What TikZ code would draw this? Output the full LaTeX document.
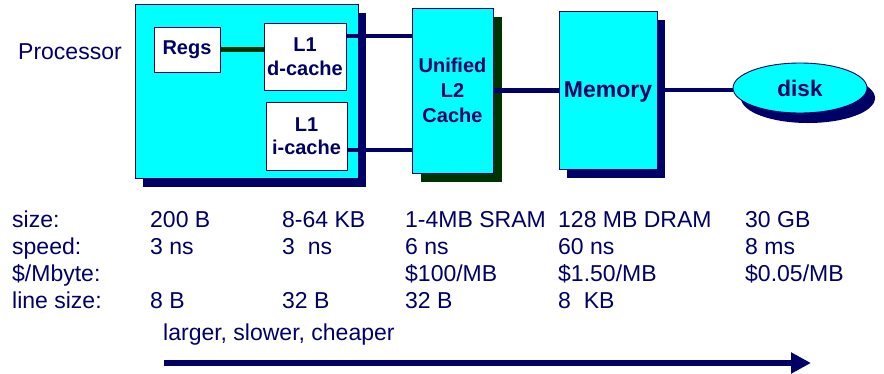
\documentclass[tikz,border=0pt]{standalone}
\usepackage{fontspec}
\setmainfont{Liberation Sans}
\usetikzlibrary{shapes.geometric,shadows,arrows.meta}
\definecolor{navy}{RGB}{0,0,102}
\definecolor{cyanfill}{RGB}{0,255,255}
\definecolor{dkgreen}{RGB}{0,51,0}
\tikzset{
  box/.style={draw=navy, line width=0.9pt, fill=cyanfill, inner sep=0pt, text=navy, font=\bfseries\fontsize{20}{25}\selectfont, align=center},
  wbox/.style={draw=navy, line width=0.9pt, fill=white, inner sep=0pt, text=navy, font=\bfseries\fontsize{20}{23.5}\selectfont, align=center},
  navyshadow/.style={drop shadow={shadow xshift=8pt, shadow yshift=-9pt, fill=navy, opacity=1}},
  greenshadow/.style={drop shadow={shadow xshift=9pt, shadow yshift=-9pt, fill=dkgreen, opacity=1}},
  bus/.style={draw=navy, line width=4.5pt},
  gbus/.style={draw=dkgreen, line width=4.5pt},
  tab/.style={anchor=base west, inner sep=0pt, text=navy, font=\fontsize{23}{27}\selectfont},
}
\begin{document}
\begin{tikzpicture}[x=1pt,y=-1pt]
\useasboundingbox (0,0) rectangle (884,373);
% Processor
\node[box, navyshadow, minimum width=223pt, minimum height=174pt] (proc) at (246.5,91) {};
\node[tab] (proclbl) at (18,59) {Processor};
\node[wbox, minimum width=66pt, minimum height=45pt] (regs) at (187,49.5) {Regs};
\node[wbox, minimum width=82pt, minimum height=67pt] (dcache) at (305,56.5) {L1\\d-cache};
\node[wbox, minimum width=81pt, minimum height=68pt] (icache) at (306.5,136) {L1\\i-cache};
% L2
\node[box, greenshadow, minimum width=81pt, minimum height=165pt] (l2) at (452.5,90.5) {Unified\\L2\\Cache};
% Memory
\node[box, navyshadow, minimum width=98pt, minimum height=158pt, text depth=0pt, font=\bfseries\fontsize{23}{27}\selectfont] (mem) at (608,90) {Memory};
% Disk
\node[box, ellipse, drop shadow={shadow xshift=8pt, shadow yshift=-10pt, fill=navy, opacity=1}, minimum width=134pt, minimum height=50pt, font=\bfseries\fontsize{22.5}{27}\selectfont] (disk) at (800,88) {disk};
% connectors
\draw[gbus] (regs.east) -- (regs.east -| dcache.west);
\draw[bus] ([yshift=20.5pt]dcache.east) -- ([yshift=20.5pt]dcache.east -| l2.west);
\draw[bus] ([yshift=-14pt]icache.east) -- ([yshift=-14pt]icache.east -| l2.west);
\draw[bus] (l2.east) -- (l2.east -| mem.west);
\draw[bus] (mem.east) -- (mem.east -| disk.west);
% table
\node[tab] (r1c0) at (12,227) {size:};
\node[tab] (r1c1) at (150,227) {200 B};
\node[tab] (r1c2) at (282,227) {8-64 KB};
\node[tab] (r1c3) at (405,227) {1-4MB SRAM};
\node[tab] (r1c4) at (558,227) {128 MB DRAM};
\node[tab] (r1c5) at (745,227) {30 GB};
\node[tab] (r2c0) at (12,254) {speed:};
\node[tab] (r2c1) at (150,254) {3 ns};
\node[tab] (r2c2) at (282,254) {3\ \ ns};
\node[tab] (r2c3) at (405,254) {6 ns};
\node[tab] (r2c4) at (558,254) {60 ns};
\node[tab] (r2c5) at (745,254) {8 ms};
\node[tab] (r3c0) at (12,281) {\$/Mbyte:};
\node[tab] (r3c3) at (405,281) {\$100/MB};
\node[tab] (r3c4) at (558,281) {\$1.50/MB};
\node[tab] (r3c5) at (745,281) {\$0.05/MB};
\node[tab] (r4c0) at (12,308) {line size:};
\node[tab] (r4c1) at (150,308) {8 B};
\node[tab] (r4c2) at (282,308) {32 B};
\node[tab] (r4c3) at (405,308) {32 B};
\node[tab] (r4c4) at (558,308) {8\ \ KB};
\node[tab] (trend) at (163,340) {larger, slower, cheaper};
\coordinate (arrS) at (164,363);
\coordinate (arrE) at (811,363);
\draw[navy, line width=5.5pt, -{Triangle[length=20pt,width=20pt]}] (arrS) -- (arrE);
\end{tikzpicture}
\end{document}
